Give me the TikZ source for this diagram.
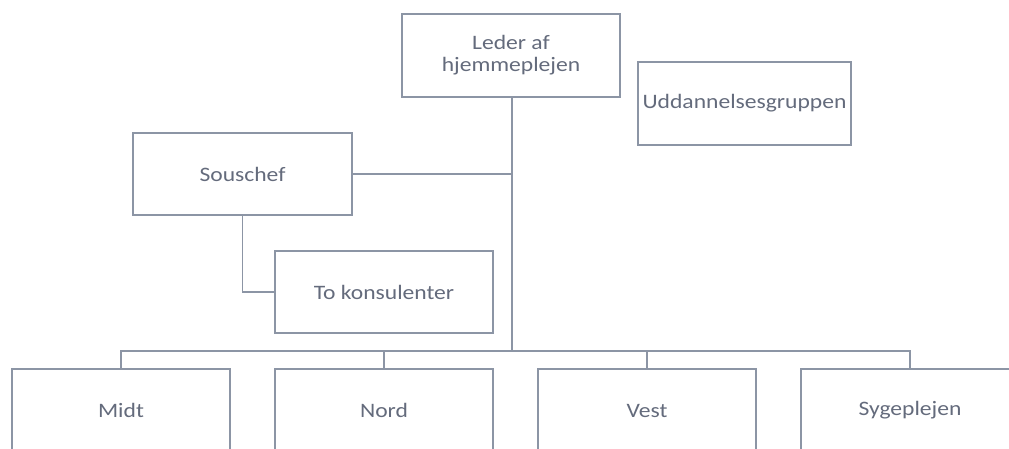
\documentclass[tikz,border=0pt]{standalone}
\usepackage{fontspec}
\setmainfont{Carlito}[FakeStretch=1.15]
\definecolor{linec}{HTML}{8C95A5}
\definecolor{textc}{HTML}{646B7C}
\begin{document}
\begin{tikzpicture}[x=1pt,y=-1pt,
  orgbox/.style={draw=linec, line width=1.6pt, fill=white, minimum width=218pt, minimum height=83pt, inner sep=0pt, text=textc, font=\fontsize{20.5}{22}\selectfont, align=center},
  conn/.style={draw=linec, line width=1.6pt},
  trunk/.style={draw=linec, line width=2.6pt}]
\useasboundingbox (0,0) rectangle (1009,448);
\clip (0,0) rectangle (1009,448);
\fill[white] (0,0) rectangle (1009,448);
\node[orgbox] (lead) at (511,55.5) {Leder af\\hjemmeplejen};
\node[orgbox, minimum width=213pt] (udd) at (744.5,103.5) {Uddannelsesgruppen};
\node[orgbox, minimum width=219pt, minimum height=82pt] (sous) at (242.5,174) {Souschef};
\node[orgbox, minimum height=82pt] (kons) at (384,292) {To konsulenter};
\node[orgbox] (midt) at (121,410.5) {Midt};
\node[orgbox] (nord) at (384,410.5) {Nord};
\node[orgbox] (vest) at (647,410.5) {Vest};
\node[orgbox] (syg) at (910,410.5) {Sygeplejen};
\coordinate (busC) at (512,351);
\draw[trunk] (lead.south -| busC) -- (busC);
\draw[conn] (sous.east) -- (sous.east -| busC);
\draw[conn] (sous.south) |- (kons.west);
\draw[conn] (midt.north) |- (busC) -| (syg.north);
\draw[conn] (nord.north) -- (nord.north |- busC);
\draw[conn] (vest.north) -- (vest.north |- busC);
\end{tikzpicture}
\end{document}
